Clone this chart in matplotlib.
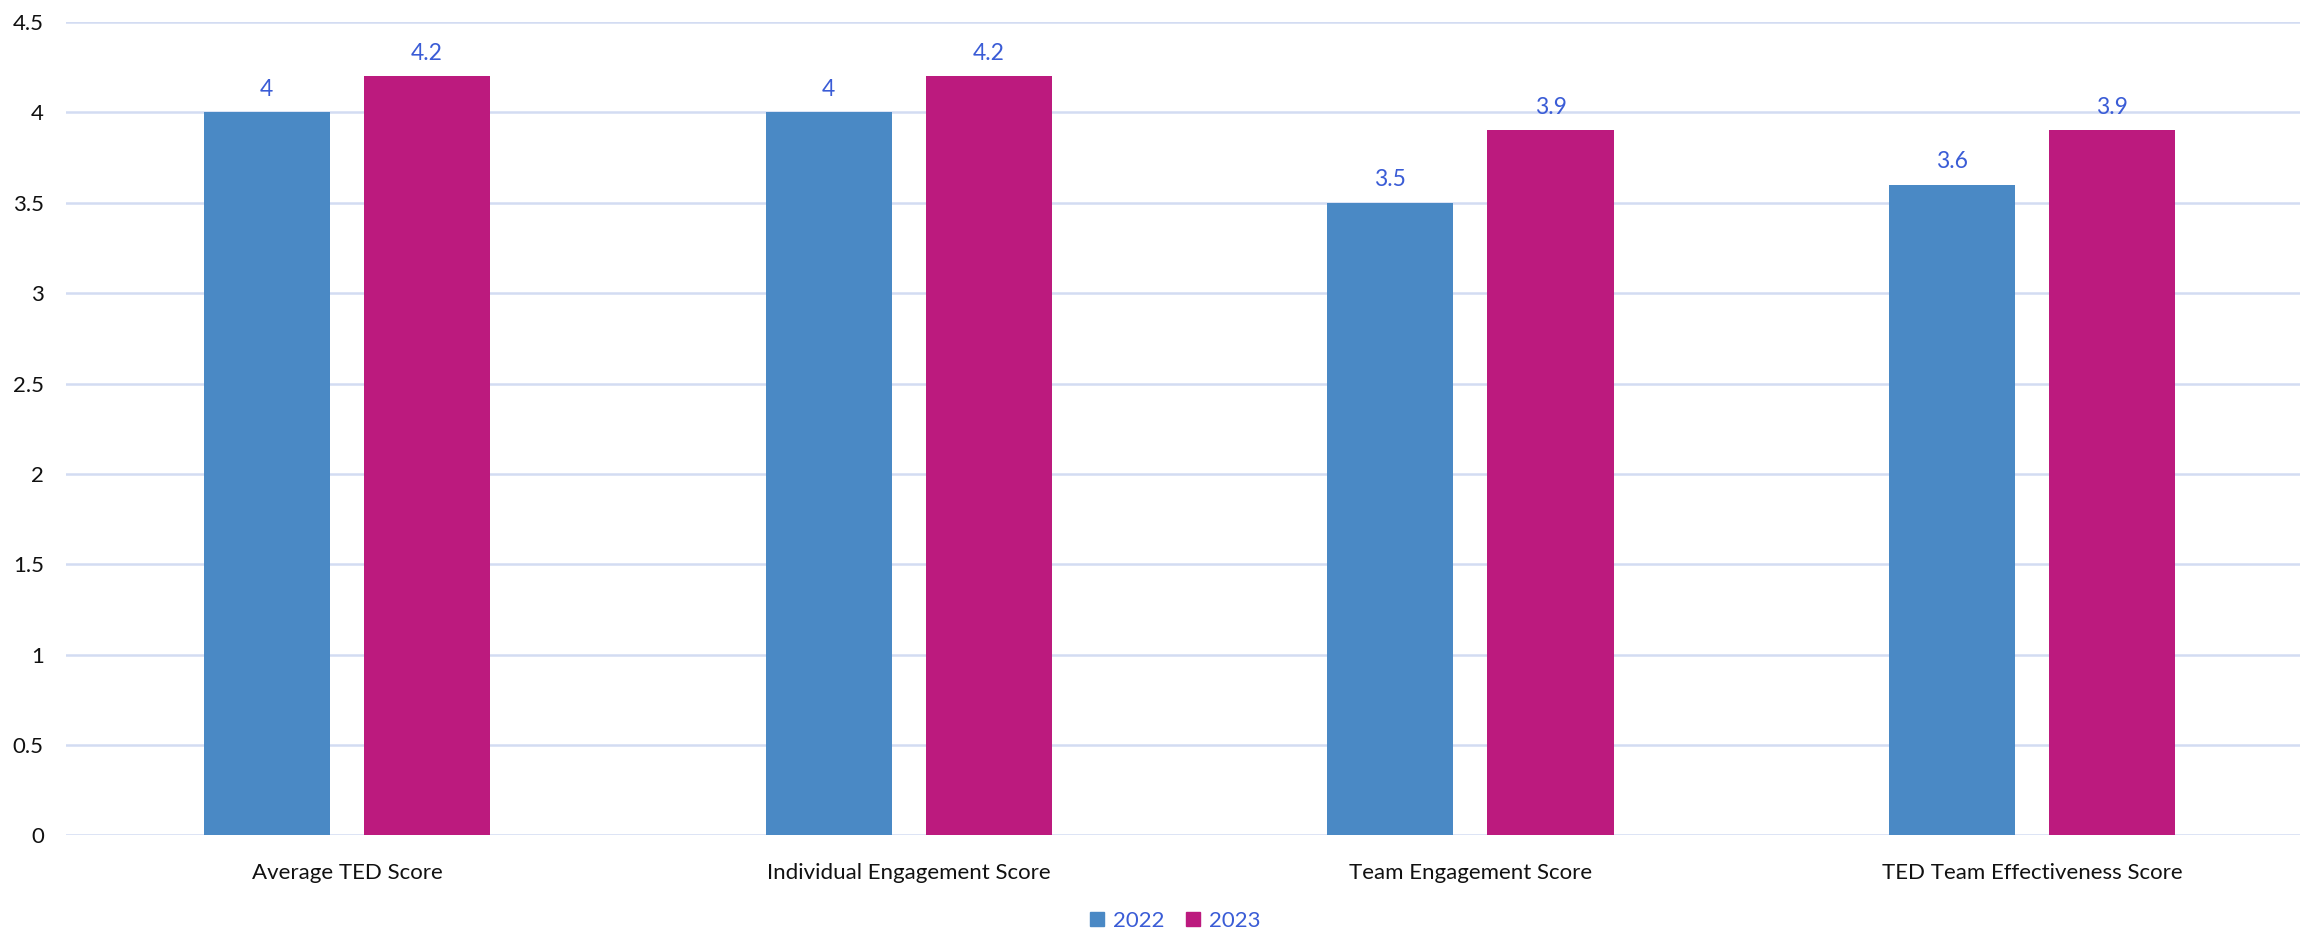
import matplotlib.pyplot as plt
import numpy as np
from matplotlib.patches import Patch

categories = ['Average TED Score', 'Individual Engagement Score',
              'Team Engagement Score', 'TED Team Effectiveness Score']
scores_2022 = [4.0, 4.0, 3.5, 3.6]
scores_2023 = [4.2, 4.2, 3.9, 3.9]
years = ['2022', '2023']

BLUE = '#4A89C5'
MAGENTA = '#BC1A7E'
LABEL_BLUE = '#3A5CD6'
GRID = '#D3DCF2'

plt.rcParams['font.family'] = ['Lato', 'DejaVu Sans']

fig = plt.figure(figsize=(23, 9.31), dpi=100)
ax = fig.add_axes([0.0287, 0.1026, 0.977, 0.8738])

x = np.arange(len(categories))
width = 0.2245
offset = 0.1425

bars_a = ax.bar(x - offset, scores_2022, width, color=BLUE, zorder=3)
bars_b = ax.bar(x + offset, scores_2023, width, color=MAGENTA, zorder=3)

# value labels above each bar
for bars, vals in [(bars_a, scores_2022), (bars_b, scores_2023)]:
    for b, v in zip(bars, vals):
        ax.annotate(f'{v:g}', (b.get_x() + b.get_width() / 2, v),
                    xytext=(0, 9), textcoords='offset points',
                    ha='center', va='bottom', fontsize=16.5, color=LABEL_BLUE)

ax.set_xlim(-0.5, len(categories) - 0.5)
ax.set_ylim(0, 4.5)
yt = np.arange(0, 4.51, 0.5)
ax.set_yticks(yt)
ax.set_yticklabels([f'{t:g}' for t in yt])
ax.set_xticks(x)
ax.set_xticklabels(categories)

ax.yaxis.grid(True, color=GRID, linewidth=1.8, zorder=0)
ax.set_axisbelow(True)
for s in ax.spines.values():
    s.set_visible(False)
ax.tick_params(axis='both', length=0, labelsize=16, colors='#111111')
ax.tick_params(axis='x', pad=20)
ax.tick_params(axis='y', pad=16)

handles = [Patch(color=BLUE), Patch(color=MAGENTA)]
leg = fig.legend(handles, years, loc='center', bbox_to_anchor=(0.511, 0.011),
                 ncol=2, frameon=False, fontsize=16, handlelength=0.6,
                 handleheight=0.6, handletextpad=0.4, columnspacing=1.0)
for t in leg.get_texts():
    t.set_color(LABEL_BLUE)

fig.savefig('out.png', dpi=100)
